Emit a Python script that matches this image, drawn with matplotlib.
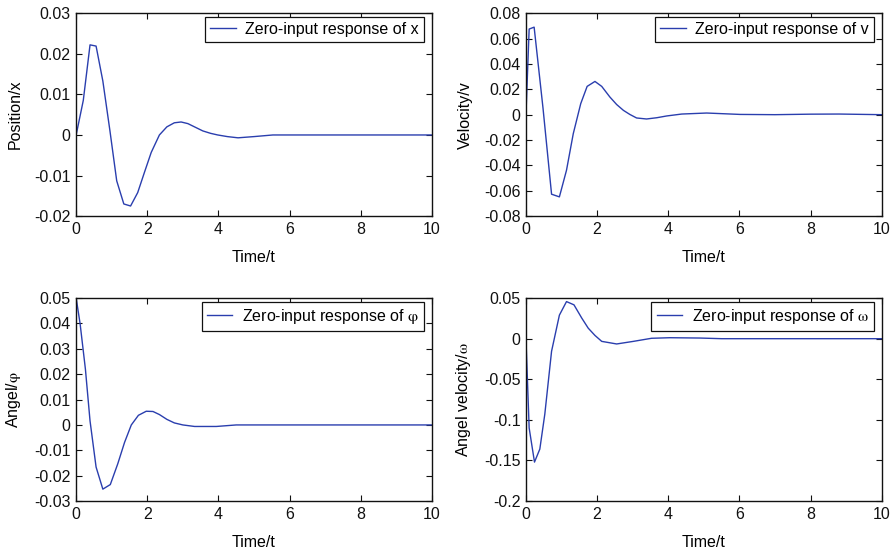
import numpy as np
import matplotlib.pyplot as plt

plt.rcParams['font.family'] = ['Liberation Sans', 'DejaVu Sans']
plt.rcParams['mathtext.fontset'] = 'stix'
plt.rcParams['axes.unicode_minus'] = False

# zero-input responses read per state variable
t_x = [0, 0.2, 0.39, 0.56, 0.75, 0.95, 1.14, 1.34, 1.53, 1.73, 1.92, 2.11, 2.34,
       2.55, 2.76, 2.95, 3.14, 3.35, 3.56, 3.78, 3.98, 4.25, 4.55, 5.0, 5.53, 6.0, 8.0, 10.0]
x_resp = [0, 0.0085, 0.0222, 0.0219, 0.0133, 0.0010, -0.0113, -0.0170, -0.0175, -0.0142,
          -0.0092, -0.0043, 0.0, 0.0020, 0.0030, 0.0032, 0.0028, 0.0019, 0.0010, 0.0004,
          0.0, -0.0004, -0.0007, -0.0004, 0.0, 0.0, 0.0, 0.0]

t_v = [0, 0.09, 0.23, 0.48, 0.72, 0.94, 1.14, 1.33, 1.54, 1.72, 1.94, 2.13, 2.36, 2.55,
       2.74, 2.92, 3.11, 3.39, 3.68, 3.96, 4.38, 5.08, 6.02, 7.0, 8.0, 8.8, 10.0]
v_resp = [0, 0.0675, 0.0690, 0.0050, -0.0627, -0.0648, -0.0438, -0.0150, 0.0087, 0.0223,
          0.0262, 0.0223, 0.0139, 0.0080, 0.0034, 0.0002, -0.0026, -0.0034, -0.0024, -0.0010,
          0.0005, 0.0013, 0.0002, 0.0, 0.0004, 0.0005, 0.0]

t_phi = [0, 0.11, 0.26, 0.39, 0.56, 0.75, 0.96, 1.17, 1.36, 1.55, 1.75, 1.97, 2.16, 2.34,
         2.55, 2.76, 3.0, 3.33, 3.94, 4.5, 5.5, 10.0]
phi_resp = [0.05, 0.040, 0.022, 0.0016, -0.0166, -0.0253, -0.0235, -0.0153, -0.0069, 0.0,
            0.0038, 0.0054, 0.0053, 0.0041, 0.0022, 0.0008, 0.0, -0.0006, -0.0006, 0.0, 0.0, 0.0]

t_w = [0, 0.09, 0.24, 0.39, 0.53, 0.72, 0.94, 1.14, 1.35, 1.57, 1.75, 1.94, 2.13, 2.55,
       3.02, 3.53, 4.05, 4.89, 5.5, 10.0]
w_resp = [0, -0.110, -0.152, -0.136, -0.093, -0.0155, 0.029, 0.0457, 0.0417, 0.0253, 0.013,
          0.004, -0.0033, -0.0065, -0.0033, 0.0005, 0.0012, 0.0008, 0.0, 0.0]

panels = [
    (t_x, x_resp, 'Position/x', 'Zero-input response of x', (-0.02, 0.03), 0.01),
    (t_v, v_resp, 'Velocity/v', 'Zero-input response of v', (-0.08, 0.08), 0.02),
    (t_phi, phi_resp, r'Angel/$\mathrm{\varphi}$', r'Zero-input response of $\mathrm{\varphi}$',
     (-0.03, 0.05), 0.01),
    (t_w, w_resp, r'Angel velocity/$\mathrm{\omega}$', r'Zero-input response of $\mathrm{\omega}$',
     (-0.2, 0.05), 0.05),
]

fs = 11.5
fig = plt.figure(figsize=(8.96, 5.5), dpi=100)
lefts = [0.085, 0.587]
bottoms = [0.607, 0.089]
w, h = 0.397, 0.369

for i, (t, y, ylab, leg, ylim, step) in enumerate(panels):
    ax = fig.add_axes([lefts[i % 2], bottoms[i // 2], w, h])
    ax.plot(t, y, color='#2a3eae', lw=1.0, label=leg)
    ax.set_xlim(0, 10)
    ax.set_ylim(*ylim)
    ax.set_xticks(np.arange(0, 11, 2))
    yt = np.round(np.arange(ylim[0], ylim[1] + step / 2, step), 3)
    ax.set_yticks(yt)
    ax.set_yticklabels(['0' if v == 0 else ('%g' % v) for v in yt])
    ax.tick_params(direction='in', top=True, right=True, length=4, width=0.8,
                   labelsize=fs, pad=4, colors='#111111')
    for s in ax.spines.values():
        s.set_linewidth(1.0)
        s.set_color('#111111')
    ax.set_xlabel('Time/t', fontsize=fs)
    ax.set_ylabel(ylab, fontsize=fs)
    ax.xaxis.set_label_coords(0.5, -0.165)
    ax.yaxis.set_label_coords(-0.15, 0.5)
    lg = ax.legend(loc='upper right', bbox_to_anchor=(0.978, 0.982), borderaxespad=0,
                   fontsize=fs, fancybox=False, framealpha=1, edgecolor='#111111',
                   handlelength=1.6, borderpad=0.32, handletextpad=0.6)
    lg.get_frame().set_linewidth(0.9)

fig.savefig('out.png', dpi=100)
